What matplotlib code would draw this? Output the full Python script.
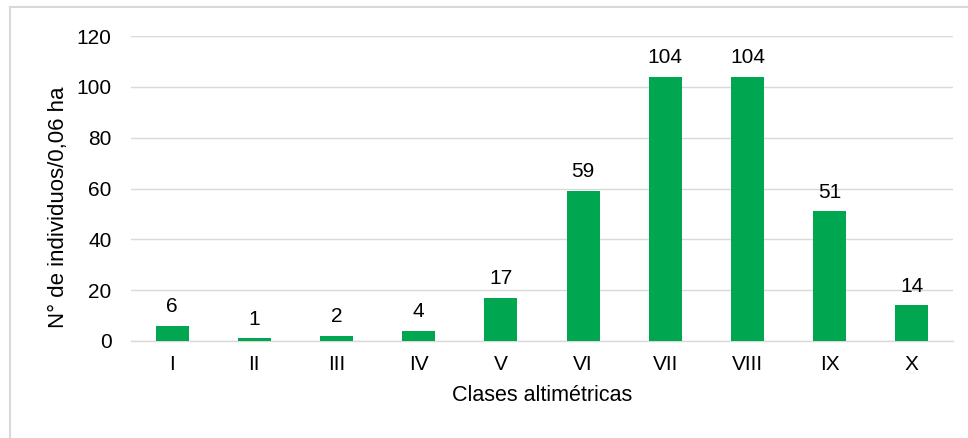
import matplotlib
matplotlib.use("Agg")
import matplotlib.pyplot as plt
from matplotlib.lines import Line2D

categories = ["I", "II", "III", "IV", "V", "VI", "VII", "VIII", "IX", "X"]
values = [6, 1, 2, 4, 17, 59, 104, 104, 51, 14]
yticks = [0, 20, 40, 60, 80, 100, 120]

plt.rcParams['font.family'] = ['Liberation Sans', 'DejaVu Sans']
fig = plt.figure(figsize=(9.68, 4.38), dpi=100)
ax = fig.add_axes([131/968, 97/438, (953-131)/968, (341-36)/438])

x = range(len(categories))
bars = ax.bar(x, values, width=0.40, color="#00A650", zorder=3)
for xi, v in zip(x, values):
    ax.annotate(str(v), (xi, v), xytext=(0, 7), textcoords="offset points",
                ha="center", va="bottom", fontsize=15, color="#000000")

ax.set_xlim(-0.5, len(categories) - 0.5)
ax.set_ylim(0, 120)
ax.set_yticks(yticks)
ax.set_xticks(list(x))
ax.set_xticklabels(categories)
ax.tick_params(axis="both", length=0, labelsize=15, colors="#000000")
ax.tick_params(axis="x", pad=10)
ax.tick_params(axis="y", pad=14)
ax.grid(axis="y", color="#D9D9D9", linewidth=1, zorder=0)
for s in ["top", "right", "left"]:
    ax.spines[s].set_visible(False)
ax.spines["bottom"].set_color("#D9D9D9")
ax.spines["bottom"].set_linewidth(1)
ax.set_xlabel("Clases altimétricas", fontsize=15.5, labelpad=8)
ax.set_ylabel("N° de individuos/0,06 ha", fontsize=16)
ax.yaxis.set_label_coords((69 - 131) / 822, (341 - 207) / 305)

# outer frame (left and top only visible)
fig.add_artist(Line2D([9.5/968, 9.5/968], [0, 1 - 7/438], color="#D9D9D9", linewidth=1.5, transform=fig.transFigure))
fig.add_artist(Line2D([9.5/968, 1], [1 - 7/438, 1 - 7/438], color="#D9D9D9", linewidth=1.5, transform=fig.transFigure))

fig.savefig("out.png", dpi=100)
